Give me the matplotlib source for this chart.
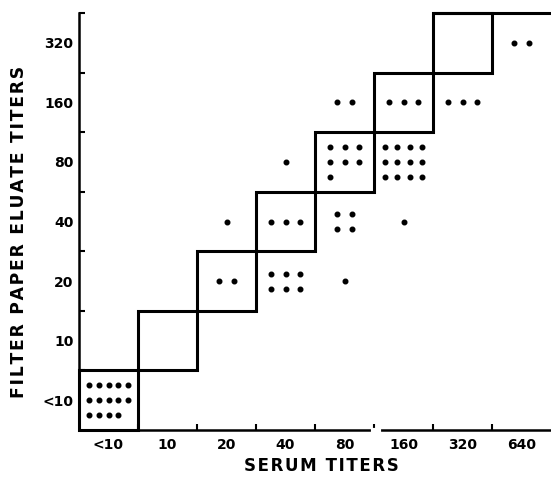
import numpy as np
import matplotlib.pyplot as plt

# axis categories
serum_labels = ['<10', '10', '20', '40', '80', '160', '320', '640']
eluate_labels = ['<10', '10', '20', '40', '80', '160', '320']

# one entry per occupied cell: serum titer, eluate titer, number of sera
cell_serum = ['<10', '20', '20', '40', '40', '40', '80', '80', '80', '80',
              '160', '160', '160', '320', '640']
cell_eluate = ['<10', '20', '40', '20', '40', '80', '20', '40', '80', '160',
               '40', '80', '160', '160', '320']
cell_count = [14, 2, 1, 6, 3, 1, 1, 4, 7, 2, 1, 12, 3, 3, 2]
# how the dots are laid out in each cell (dots per row)
dots_per_row = [5, 2, 1, 3, 3, 1, 1, 2, 3, 2, 1, 4, 3, 3, 2]

fig = plt.figure(figsize=(5.51, 4.83), dpi=100)
ax = fig.add_axes([79/551, 53/483, 472/551, 417/483])
ax.set_xlim(0, len(serum_labels))
ax.set_ylim(0, len(eluate_labels))

# dots
xs, ys = [], []
for s, e, n, per in zip(cell_serum, cell_eluate, cell_count, dots_per_row):
    ci = serum_labels.index(s)
    ri = eluate_labels.index(e)
    nrows = int(np.ceil(n / per))
    dx = min(0.25, 0.82 / per)
    dy = 0.25
    for k in range(n):
        row, col = divmod(k, per)
        xs.append(ci + 0.5 + (col - (per - 1) / 2) * dx)
        ys.append(ri + 0.5 + ((nrows - 1) / 2 - row) * dy)
ax.plot(xs, ys, 'ko', ms=3.3, mec='black')

# staircase of agreement boxes
for i in range(len(eluate_labels)):
    ax.add_patch(plt.Rectangle((i, i), 1, 1, fill=False, lw=2.2,
                               ec='black', clip_on=False, zorder=3))
ax.plot([len(eluate_labels) - 1, len(serum_labels)],
        [len(eluate_labels)] * 2, color='black', lw=2.2, clip_on=False,
        solid_capstyle='butt')

# axes
for side in ['top', 'right']:
    ax.spines[side].set_visible(False)
for side in ['left', 'bottom']:
    ax.spines[side].set_linewidth(1.8)
# small break in the bottom axis
ax.plot([4.99, 5.09], [0, 0], color='white', lw=3, clip_on=False, zorder=5)

fnt = dict(family='DejaVu Sans', weight='bold')
ax.set_xticks(np.arange(len(serum_labels)) + 0.5)
ax.set_xticklabels(serum_labels, fontsize=10, **fnt)
ax.set_yticks(np.arange(len(eluate_labels)) + 0.5)
ax.set_yticklabels(eluate_labels, fontsize=10, **fnt)
ax.tick_params(axis='both', which='major', length=0)
ax.tick_params(axis='x', which='major', pad=6)
ax.tick_params(axis='y', which='major', pad=4)
ax.set_xticks(np.arange(1, len(serum_labels)), minor=True)
ax.set_yticks(np.arange(1, len(eluate_labels) + 1), minor=True)
ax.tick_params(which='minor', direction='in', length=4, width=1.5)

hs = '\u200a'
ax.text(0.513, -0.086, hs.join('SERUM TITERS'), transform=ax.transAxes,
        ha='center', va='center', fontsize=12, **fnt)
ax.text(-0.127, 0.475, hs.join('FILTER PAPER ELUATE TITERS'),
        transform=ax.transAxes, rotation=90, ha='center', va='center',
        fontsize=12.3, **fnt)

fig.savefig('out.png', dpi=100)
